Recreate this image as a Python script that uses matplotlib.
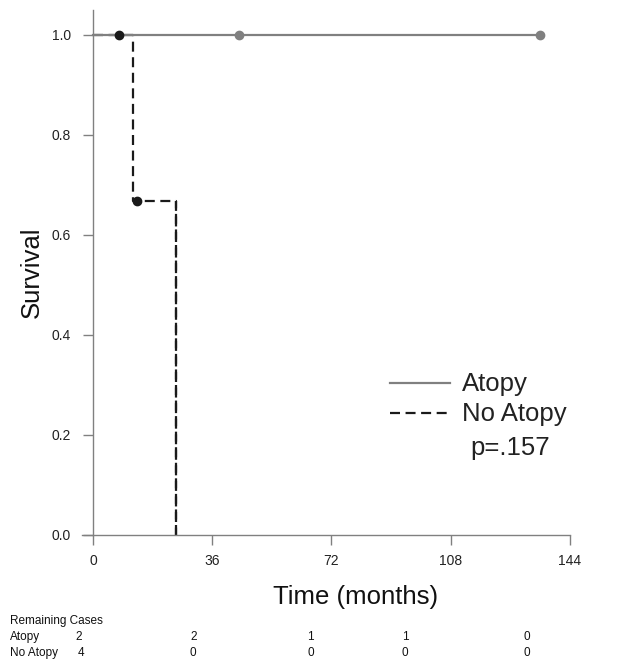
import matplotlib
matplotlib.use("Agg")
import matplotlib.pyplot as plt
from matplotlib.lines import Line2D

plt.rcParams['font.family'] = ['Liberation Sans', 'DejaVu Sans']

# Atopy: step data
atopy_t = [0, 135]
atopy_s = [1.0, 1.0]
atopy_cens_t = [44, 135]
atopy_cens_s = [1.0, 1.0]

# No Atopy
noat_t = [0, 12, 25]
noat_s = [1.0, 0.667, 0.0]
noat_cens_t = [8, 13.3]
noat_cens_s = [1.0, 0.667]

xticks = [0, 36, 72, 108, 144]
yticks = [0.0, 0.2, 0.4, 0.6, 0.8, 1.0]

series_labels = ["Atopy", "No Atopy"]
p_text = "p=.157"
risk_atopy = [2, 2, 1, 1, 0]
risk_noatopy = [4, 0, 0, 0, 0]
risk_x_px_atopy = [75, 190, 307, 402, 523]
risk_x_px_noatopy = [78, 190, 307, 402, 523]

W, H = 631, 669
fig = plt.figure(figsize=(W/100, H/100), dpi=100)
ax = fig.add_axes([82/W, (H-535)/H, 488/W, 525/H])

gray = '#808080'
dark = '#1a1a1a'
dash = (0, (4.5, 2.5))
ax.step(noat_t, noat_s, where='post', color=dark, lw=1.6, ls=dash, zorder=2)
ax.plot([noat_t[-1], noat_t[-1]], [noat_s[-1], noat_s[-2]], color=dark, lw=1.6, ls=dash, zorder=2)
ax.plot(atopy_t, atopy_s, color=gray, lw=1.6, zorder=3)
ax.plot(atopy_cens_t, atopy_cens_s, 'o', color=gray, ms=6, zorder=4)
ax.plot(noat_cens_t, noat_cens_s, 'o', color=dark, ms=6, zorder=5)

ax.set_xlim(-3.3, 144)
ax.set_ylim(0, 1.05)
ax.spines['left'].set_position(('data', 0))
ax.spines['top'].set_visible(False)
ax.spines['right'].set_visible(False)
for s in ['left', 'bottom']:
    ax.spines[s].set_color(gray)
    ax.spines[s].set_linewidth(1.0)
ax.set_xticks(xticks)
ax.set_xticklabels([str(v) for v in xticks])
ax.set_yticks(yticks)
ax.set_yticklabels([f"{v:.1f}" for v in yticks])
ax.tick_params(axis='both', direction='out', length=7, width=1.0, color=gray,
               labelsize=10, labelcolor='#222222')
ax.tick_params(axis='x', pad=7)
ax.tick_params(axis='y', pad=9)

ax.set_ylabel("Survival", fontsize=18.5, color='#111111')
ax.set_xlabel("Time (months)", fontsize=18.5, color='#111111')
ax.yaxis.set_label_coords((32-82)/488, 0.5)
ax.xaxis.set_label_coords((356-82)/488, -(597-535)/525)
ax.xaxis.label.set_va('center')
ax.yaxis.label.set_va('center')

# legend (manual)
fig.add_artist(Line2D([390/W, 450/W], [1-383/H, 1-383/H], color=gray, lw=1.6))
fig.add_artist(Line2D([390/W, 450/W], [1-413/H, 1-413/H], color=dark, lw=1.6, ls=dash))
fig.text(462/W, 1-384/H, series_labels[0], fontsize=18.5, color='#222222', va='center', ha='left')
fig.text(462/W, 1-414/H, series_labels[1], fontsize=18.5, color='#222222', va='center', ha='left')
fig.text(470/W, 1-448/H, p_text, fontsize=18.5, color='#222222', va='center', ha='left')

# risk table
fs = 8.5
fig.text(10/W, 1-621/H, "Remaining Cases", fontsize=fs, va='center', ha='left', color='#111111')
fig.text(10/W, 1-637/H, series_labels[0], fontsize=fs, va='center', ha='left', color='#111111')
fig.text(10/W, 1-653/H, series_labels[1], fontsize=fs, va='center', ha='left', color='#111111')
for xp, v in zip(risk_x_px_atopy, risk_atopy):
    fig.text(xp/W, 1-637/H, str(v), fontsize=fs, va='center', ha='left', color='#111111')
for xp, v in zip(risk_x_px_noatopy, risk_noatopy):
    fig.text(xp/W, 1-653/H, str(v), fontsize=fs, va='center', ha='left', color='#111111')

fig.savefig("out.png", dpi=100)
